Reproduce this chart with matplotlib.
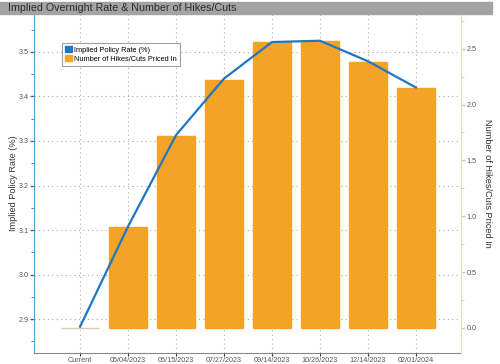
import numpy as np
import matplotlib
matplotlib.use("Agg")
import matplotlib.pyplot as plt
from matplotlib.patches import Patch, Rectangle

plt.rcParams['font.family'] = ['Liberation Sans', 'DejaVu Sans']

dates = ["Current", "05/04/2023", "06/15/2023", "07/27/2023", "09/14/2023",
         "10/26/2023", "12/14/2023", "02/01/2024"]
policy_rate = [2.883, 3.108, 3.313, 3.44, 3.522, 3.525, 3.479, 3.42]
hikes = [0.0, 0.90, 1.72, 2.22, 2.56, 2.57, 2.38, 2.15]

blue = "#1f77c4"
orange = "#f5a229"
tick_col = "#555555"

fig = plt.figure(figsize=(5, 3.64), dpi=100)
fig.patches.append(Rectangle((0, 1 - 14/364), 492/500, 12/364, transform=fig.transFigure,
                             color="#a3a3a3", zorder=0))
fig.text(8/500, 1 - 8/364, "Implied Overnight Rate & Number of Hikes/Cuts", fontsize=7.7,
         color="#2b2b2b", va="center", ha="left")

ax = fig.add_axes([34/500, 1 - 353/364, 427/500, 339/364])
x = np.arange(len(dates))

# left axis: grid + ticks
ax.set_xlim(-0.96, 7.94)
ax.set_ylim(2.824, 3.585)
ax.set_yticks(np.arange(2.9, 3.55, 0.1))
ax.set_yticks(np.arange(2.85, 3.6, 0.05), minor=True)
ax.yaxis.set_major_formatter(matplotlib.ticker.FormatStrFormatter("%.1f"))
ax.set_xticks(x)
ax.set_xticklabels(dates)
ax.grid(True, linestyle=(0, (1, 3)), color="#aaaaaa", linewidth=0.8)
ax.tick_params(axis="y", colors=blue, labelcolor=tick_col, labelsize=5.2, length=3, width=1, pad=1)
ax.tick_params(axis="y", which="minor", colors=blue, length=2)
ax.tick_params(axis="x", colors="#333333", labelcolor=tick_col, labelsize=5.2, length=2, pad=1)
ax.set_ylabel("Implied Policy Rate (%)", fontsize=6.6, color="#333333", va="center")
ax.yaxis.set_label_coords(-0.049, 0.5)
ax.spines["left"].set_color("#5a9fd0")
ax.spines["bottom"].set_color("#888888")
ax.spines["top"].set_visible(False)
ax.spines["right"].set_visible(False)

# right axis: bars
ax2 = ax.twinx()
ax2.set_ylim(-0.224, 2.81)
edge = ["#d8cfb0"] + [orange] * (len(hikes) - 1)
ax2.bar(x, hikes, width=0.78, color=orange, edgecolor=edge, linewidth=1)
ax2.set_yticks(np.arange(0, 2.6, 0.5))
ax2.set_yticks(np.arange(0, 2.8, 0.25), minor=True)
ax2.yaxis.set_major_formatter(matplotlib.ticker.FormatStrFormatter("%.1f"))
ax2.tick_params(axis="y", colors="#e0c890", labelcolor=tick_col, labelsize=5.2, length=3, width=1, pad=1)
ax2.tick_params(axis="y", which="minor", colors="#e0c890", length=2)
ax2.set_ylabel("Number of Hikes/Cuts Priced In", fontsize=6.6, color="#333333",
               rotation=270, va="center")
ax2.yaxis.set_label_coords(1.061, 0.5)
ax2.spines["right"].set_color("#eadcb5")
for s in ["top", "left", "bottom"]:
    ax2.spines[s].set_visible(False)

# line on top
ax3 = ax.twinx()
ax3.set_ylim(ax.get_ylim())
ax3.plot(x, policy_rate, color=blue, linewidth=1.6)
ax3.set_yticks([])
for s in ax3.spines.values():
    s.set_visible(False)

handles = [Patch(color=blue), Patch(color=orange)]
leg = ax3.legend(handles, ["Implied Policy Rate (%)", "Number of Hikes/Cuts Priced In"],
                 loc="upper left", bbox_to_anchor=(0.066, 0.914), fontsize=5.3,
                 frameon=True, fancybox=False, handlelength=0.9, handleheight=0.9,
                 handletextpad=0.3, borderpad=0.4, labelspacing=0.2, borderaxespad=0)
leg.get_frame().set_edgecolor("#888888")
leg.get_frame().set_linewidth(0.8)

fig.savefig("out.png", dpi=100)
